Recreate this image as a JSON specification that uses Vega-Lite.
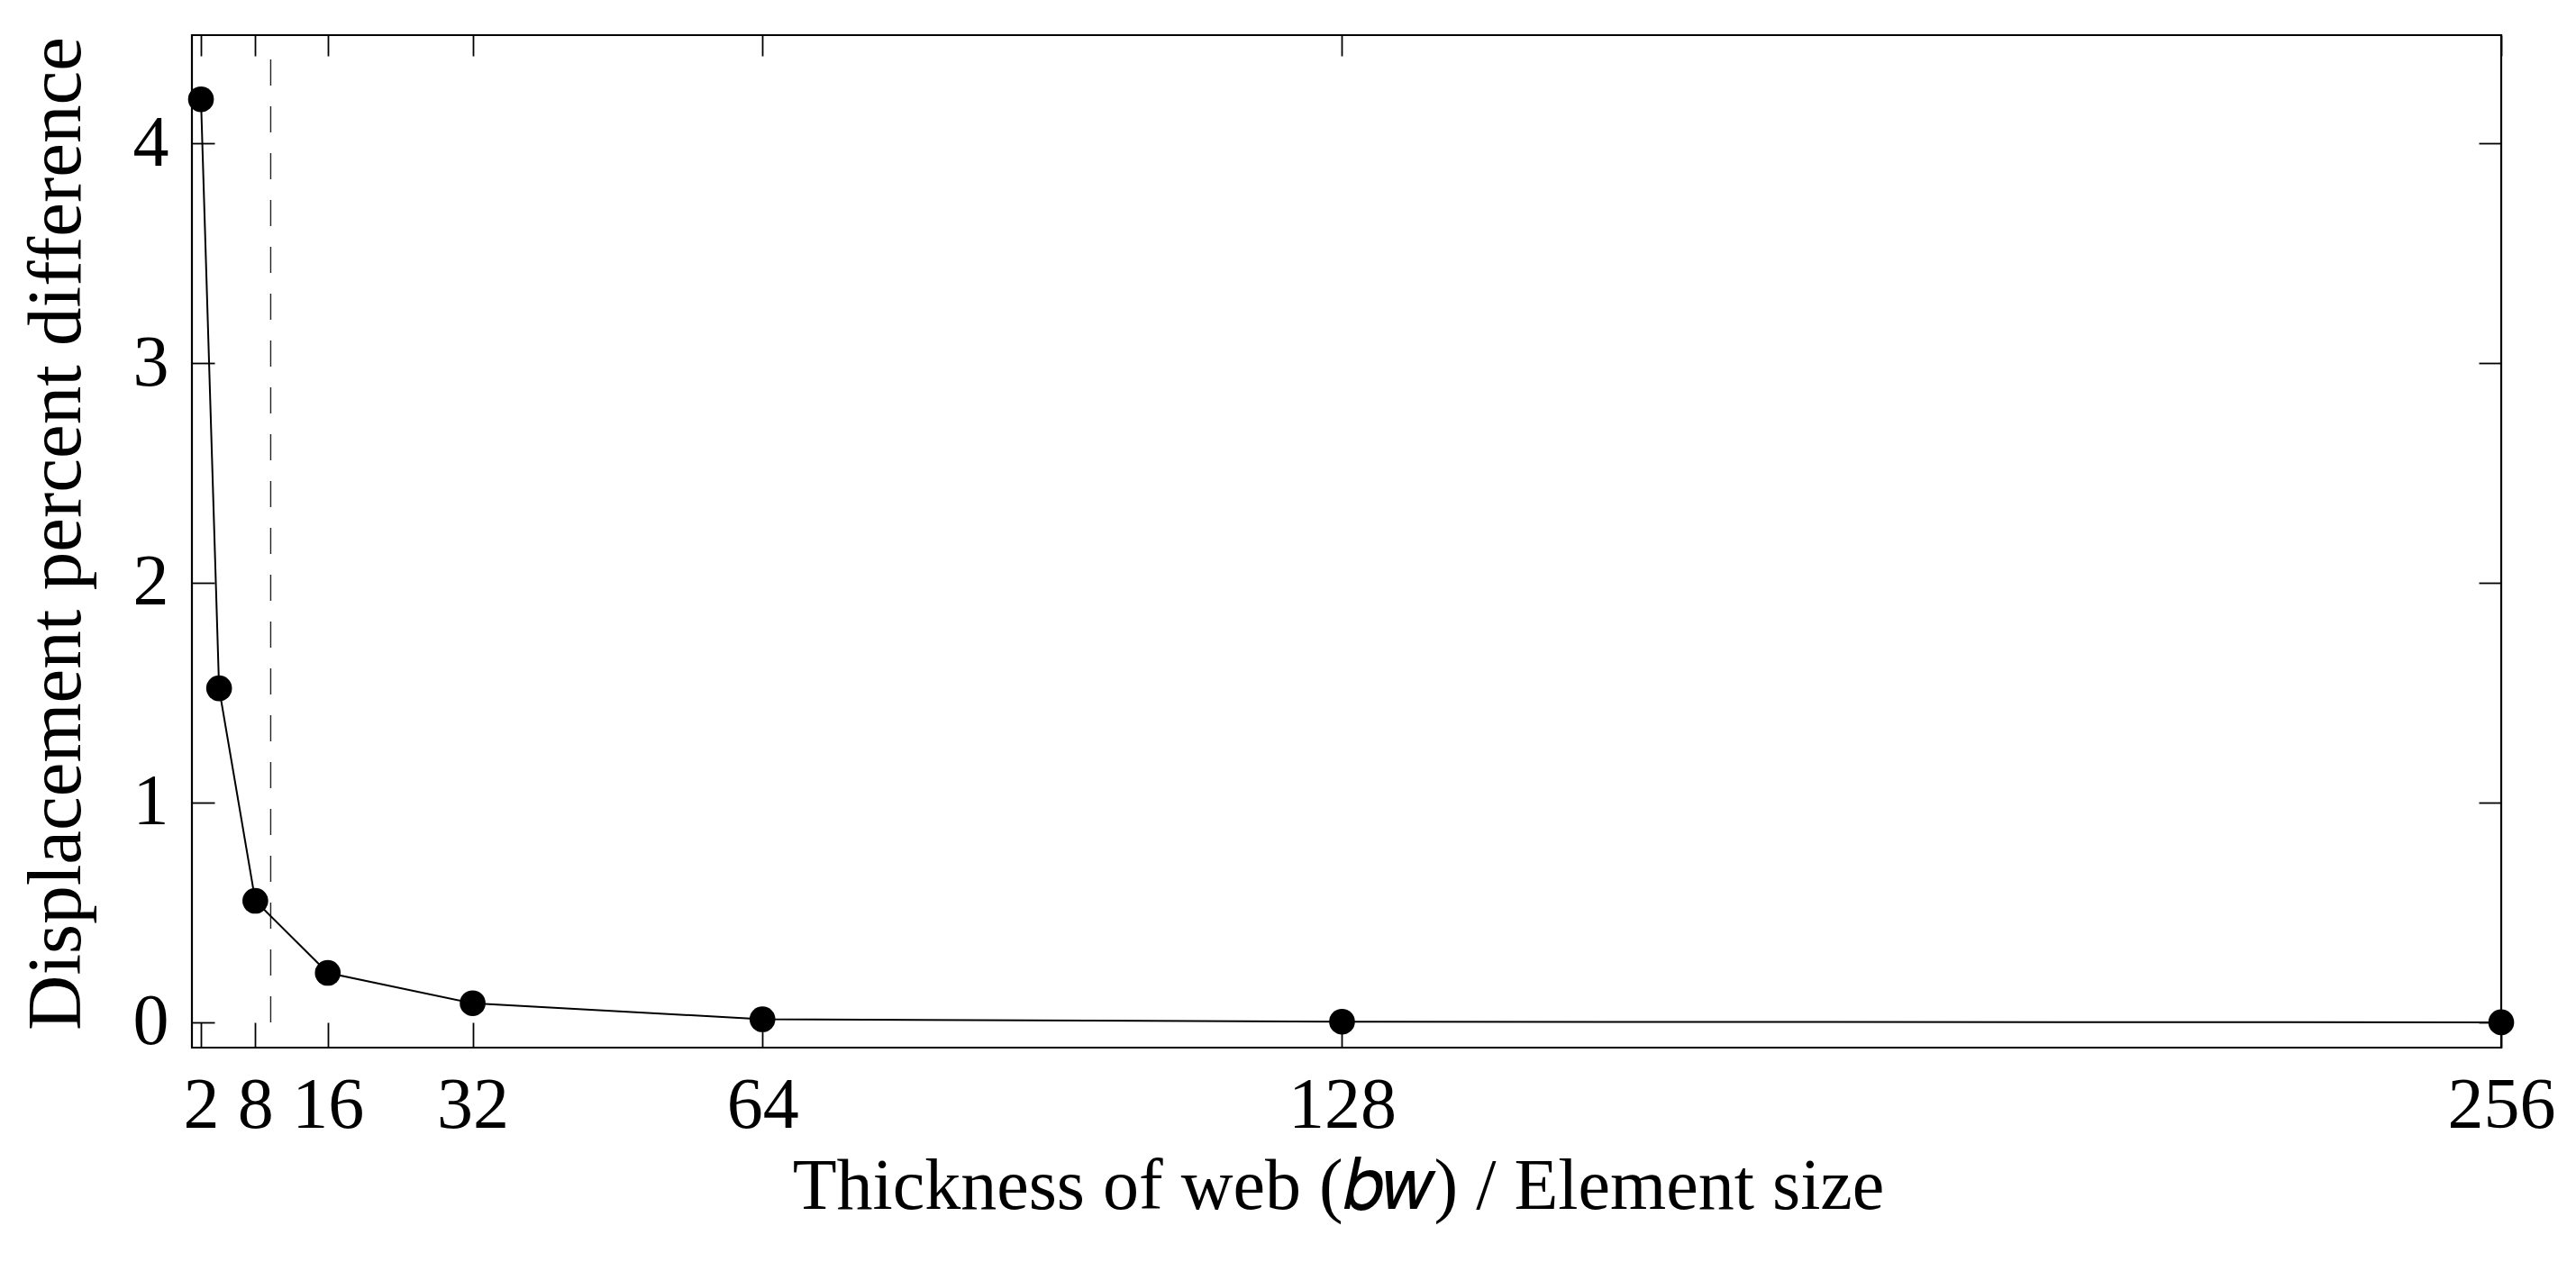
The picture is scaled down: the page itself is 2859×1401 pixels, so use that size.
{
  "$schema": "https://vega.github.io/schema/vega-lite/v6.json",
  "width": 2563,
  "height": 1124,
  "autosize": {"type": "none"},
  "padding": {"left": 213, "top": 39, "right": 83, "bottom": 238},
  "background": "white",
  "config": {
    "view": {"stroke": "black", "strokeWidth": 2.2},
    "font": "Liberation Serif"
  },
  "datasets": {
    "pts": [
      {"ratio": 2, "diff": 4.20},
      {"ratio": 4, "diff": 1.52},
      {"ratio": 8, "diff": 0.553},
      {"ratio": 16, "diff": 0.225},
      {"ratio": 32, "diff": 0.087},
      {"ratio": 64, "diff": 0.014},
      {"ratio": 128, "diff": 0.003},
      {"ratio": 256, "diff": 0.0}
    ],
    "ref": [{"ratio": 9.7, "y1": 0, "y2": 4.4}]
  },
  "resolve": {"axis": {"x": "independent", "y": "independent"}},
  "layer": [
    {
      "data": {"name": "ref"},
      "mark": {"type": "rule", "color": "#222222", "strokeWidth": 1.4, "strokeDash": [29, 23]},
      "encoding": {
        "x": {
          "field": "ratio", "type": "quantitative",
          "scale": {"domain": [1, 256], "nice": false, "zero": false},
          "axis": {
            "orient": "bottom",
            "values": [2, 8, 16, 32, 64, 128, 256],
            "domain": false, "grid": false,
            "ticks": true, "tickSize": -28, "tickWidth": 1.8, "tickColor": "black",
            "labelFontSize": 80, "labelColor": "black", "labelPadding": 116,
            "labelBaseline": "alphabetic", "labelOverlap": false, "labelFlush": false, "labelBound": false,
            "title": "Thickness of web (𝑏𝑤) / Element size",
            "titleFontSize": 80, "titleFontWeight": "normal", "titleColor": "black",
            "titleX": 1272, "titleY": 178, "titleBaseline": "alphabetic", "titleAlign": "center"
          }
        },
        "y": {
          "field": "y1", "type": "quantitative",
          "scale": {"domain": [-0.115, 4.492], "nice": false, "zero": false},
          "axis": {
            "orient": "left",
            "values": [0, 1, 2, 3, 4],
            "domain": false, "grid": false,
            "ticks": true, "tickSize": -25, "tickWidth": 1.8, "tickColor": "black",
            "labelFontSize": 80, "labelColor": "black", "labelPadding": 51,
            "labelBaseline": "middle", "labelOverlap": false, "labelFlush": false, "labelBound": false,
            "title": "Displacement percent difference",
            "titleFontSize": 85, "titleFontWeight": "normal", "titleColor": "black",
            "titleAngle": 270, "titleX": -125, "titleY": 553, "titleBaseline": "alphabetic", "titleAlign": "center"
          }
        },
        "y2": {"field": "y2"}
      }
    },
    {
      "data": {"name": "pts"},
      "mark": {"type": "line", "color": "black", "strokeWidth": 2},
      "encoding": {
        "x": {
          "field": "ratio", "type": "quantitative",
          "scale": {"domain": [1, 256], "nice": false, "zero": false},
          "axis": {
            "orient": "top",
            "values": [2, 8, 16, 32, 64, 128, 256],
            "domain": false, "grid": false, "labels": false, "title": null,
            "ticks": true, "tickSize": -23, "tickWidth": 1.8, "tickColor": "black"
          }
        },
        "y": {
          "field": "diff", "type": "quantitative",
          "scale": {"domain": [-0.115, 4.492], "nice": false, "zero": false},
          "axis": {
            "orient": "right",
            "values": [0, 1, 2, 3, 4],
            "domain": false, "grid": false, "labels": false, "title": null,
            "ticks": true, "tickSize": -25, "tickWidth": 1.8, "tickColor": "black"
          }
        }
      }
    },
    {
      "data": {"name": "pts"},
      "mark": {"type": "point", "shape": "circle", "filled": true, "size": 820, "color": "black", "opacity": 1},
      "encoding": {
        "x": {"field": "ratio", "type": "quantitative", "scale": {"domain": [1, 256], "nice": false, "zero": false}, "axis": null},
        "y": {"field": "diff", "type": "quantitative", "scale": {"domain": [-0.115, 4.492], "nice": false, "zero": false}, "axis": null}
      }
    }
  ]
}
